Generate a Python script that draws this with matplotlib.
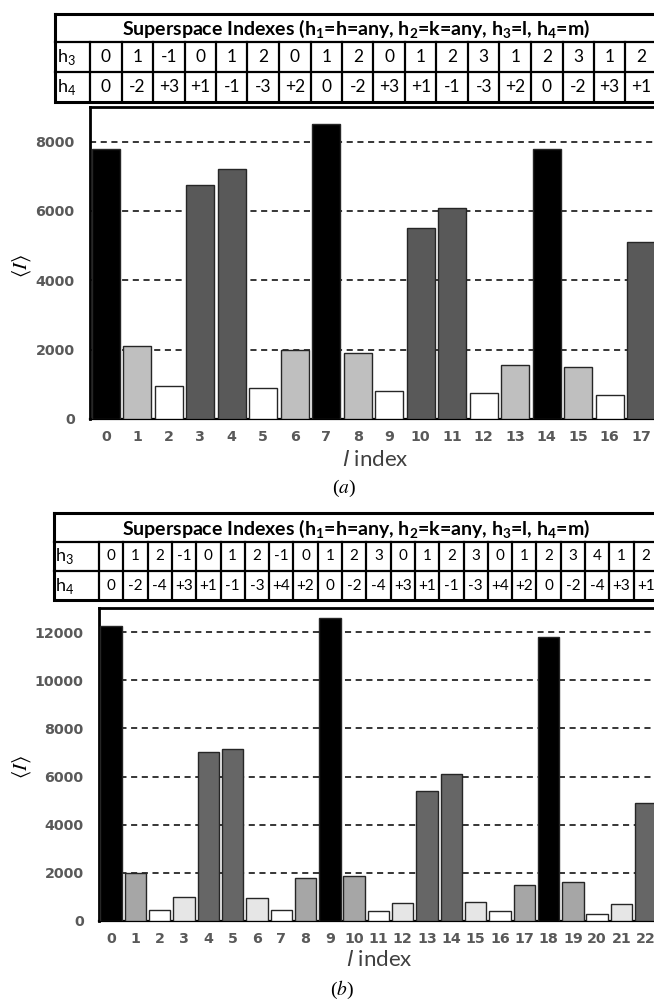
import matplotlib
matplotlib.use("Agg")
import matplotlib.pyplot as plt

# ---- Data ----
# panel (a): seven-reflection repeat
a_index = list(range(18))
a_values = [7800, 2100, 950, 6750, 7200, 900, 2000,
            8500, 1900, 800, 5500, 6100, 750, 1550,
            7800, 1500, 700, 5100]
a_class = [0, 1, 2, 3, 3, 2, 1,
           0, 1, 2, 3, 3, 2, 1,
           0, 1, 2, 3]
a_h3 = ["0", "1", "-1", "0", "1", "2", "0", "1", "2",
        "0", "1", "2", "3", "1", "2", "3", "1", "2"]
a_h4 = ["0", "-2", "+3", "+1", "-1", "-3", "+2", "0", "-2",
        "+3", "+1", "-1", "-3", "+2", "0", "-2", "+3", "+1"]

# panel (b): nine-reflection repeat
b_index = list(range(23))
b_values = [12250, 2000, 450, 1000, 7000, 7150, 950, 450, 1800,
            12600, 1850, 400, 750, 5400, 6100, 800, 400, 1500,
            11800, 1600, 300, 700, 4900]
b_class = [0, 1, 2, 3, 4, 4, 3, 2, 1,
           0, 1, 2, 3, 4, 4, 3, 2, 1,
           0, 1, 2, 3, 4]
b_h3 = ["0", "1", "2", "-1", "0", "1", "2", "-1", "0", "1", "2", "3",
        "0", "1", "2", "3", "0", "1", "2", "3", "4", "1", "2"]
b_h4 = ["0", "-2", "-4", "+3", "+1", "-1", "-3", "+4", "+2", "0", "-2", "-4",
        "+3", "+1", "-1", "-3", "+4", "+2", "0", "-2", "-4", "+3", "+1"]

a_colors = ["#000000", "#bfbfbf", "#ffffff", "#595959"]
b_colors = ["#000000", "#a6a6a6", "#ffffff", "#e6e6e6", "#666666"]

HEADER = (r"Superspace Indexes (h$_\mathregular{1}$=h=any, h$_\mathregular{2}$=k=any, "
          r"h$_\mathregular{3}$=l, h$_\mathregular{4}$=m)")

W, H = 654, 1001
TICK_GRAY = "#595959"


def px_rect(left, top, right, bottom):
    # pixel box -> figure fraction [x, y, w, h]
    return [left / W, 1 - bottom / H, (right - left) / W, (bottom - top) / H]


def draw_table(fig, left, label_right, top, head_bottom, row_bottom, bottom,
               unit, h3, h4, fsize, label_size):
    n = len(h3)
    right = label_right + n * unit
    ax = fig.add_axes(px_rect(left, top, right, bottom))
    x0 = -0.5 - (label_right - left) / unit
    ax.set_xlim(x0, n - 0.5)
    ax.set_ylim(bottom, top)
    ax.axis("off")
    lw_in, lw_out = 1.6, 2.2
    # horizontal rules
    for y in (head_bottom, row_bottom):
        ax.plot([x0, n - 0.5], [y, y], color="black", lw=lw_in, clip_on=False)
    # column separators
    for i in range(n + 1):
        ax.plot([i - 0.5, i - 0.5], [head_bottom, bottom], color="black",
                lw=lw_in, clip_on=False)
    # outer frame
    ax.plot([x0, n - 0.5, n - 0.5, x0, x0], [top, top, bottom, bottom, top],
            color="black", lw=lw_out, clip_on=False, solid_joinstyle="miter")
    ax.text((x0 + n - 0.5) / 2, (top + head_bottom) / 2 + 1, HEADER,
            ha="center", va="center", fontsize=14, fontweight="bold",
            family="Lato")
    ym3 = (head_bottom + row_bottom) / 2
    ym4 = (row_bottom + bottom) / 2
    ax.text(x0 + 0.06, ym3, r"h$_\mathregular{3}$", ha="left", va="center",
            fontsize=label_size, family="Lato")
    ax.text(x0 + 0.06, ym4, r"h$_\mathregular{4}$", ha="left", va="center",
            fontsize=label_size, family="Lato")
    for i in range(n):
        ax.text(i, ym3, h3[i], ha="center", va="center", fontsize=fsize,
                family="Lato")
        ax.text(i, ym4, h4[i], ha="center", va="center", fontsize=fsize,
                family="Lato")


def draw_bars(fig, left, top, bottom, unit, idx, values, cls, colors, ymax,
              ystep, width):
    n = len(idx)
    right = left + n * unit
    ax = fig.add_axes(px_rect(left, top, right, bottom))
    ax.bar(idx, values, width=width, color=[colors[c] for c in cls],
           edgecolor="#262626", linewidth=1.0, zorder=3)
    ax.set_xlim(-0.5, n - 0.5)
    ax.set_ylim(0, ymax)
    ax.set_xticks(idx)
    ax.set_yticks(range(0, ymax, ystep))
    ax.tick_params(length=0, pad=11, labelsize=10.3, labelcolor=TICK_GRAY)
    ax.tick_params(axis="x", pad=8)
    for lab in ax.get_xticklabels() + ax.get_yticklabels():
        lab.set_fontweight("bold")
    ax.yaxis.grid(True, linestyle=(0, (4, 3)), color="black", linewidth=1.1,
                  zorder=0)
    ax.set_axisbelow(True)
    ax.spines["right"].set_visible(False)
    ax.spines["top"].set_linewidth(2.0)
    ax.spines["left"].set_linewidth(2.0)
    ax.spines["bottom"].set_linewidth(1.6)
    return ax


fig = plt.figure(figsize=(W / 100, H / 100), dpi=100)

# ---- panel (a) ----
unit_a = 31.5
draw_table(fig, 55, 90, 14, 42, 72, 102, unit_a, a_h3, a_h4, 12.5, 13)
draw_bars(fig, 90, 107, 419, unit_a, a_index, a_values, a_class, a_colors,
          9000, 2000, 0.9)
fig.text(22 / W, 1 - 266 / H, r"$\langle I\rangle$", rotation=90, ha="center",
         va="center", fontsize=15, math_fontfamily="stix")
fig.text(375 / W, 1 - 460 / H, r"$\mathit{l}$ index", ha="center", va="center",
         fontsize=16, family="Lato", color="#404040")
fig.text(344 / W, 1 - 488 / H, r"($a$)", ha="center", va="center",
         fontsize=14, family="Liberation Serif", math_fontfamily="stix")

# ---- panel (b) ----
unit_b = 24.3
draw_table(fig, 54, 99, 513, 542, 571, 600, unit_b, b_h3, b_h4, 11, 13)
draw_bars(fig, 99, 608, 921, unit_b, b_index, b_values, b_class, b_colors,
          13000, 2000, 0.88)
fig.text(22 / W, 1 - 767 / H, r"$\langle I\rangle$", rotation=90, ha="center",
         va="center", fontsize=15, math_fontfamily="stix")
fig.text(379 / W, 1 - 960 / H, r"$\mathit{l}$ index", ha="center", va="center",
         fontsize=16, family="Lato", color="#404040")
fig.text(342 / W, 1 - 990 / H, r"($b$)", ha="center", va="center",
         fontsize=14, family="Liberation Serif", math_fontfamily="stix")

plt.rcParams["mathtext.fontset"] = "custom"
plt.rcParams["mathtext.rm"] = "Lato"
plt.rcParams["mathtext.it"] = "Lato:italic"
plt.rcParams["mathtext.bf"] = "Lato:bold"

fig.savefig("out.png", dpi=100)
